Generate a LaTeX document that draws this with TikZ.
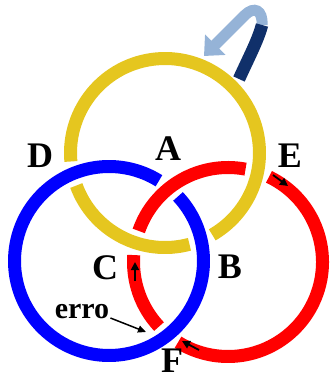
\documentclass[tikz,border=0pt]{standalone}
\usepackage{fontspec}
\setmainfont{Liberation Serif}
\usetikzlibrary{arrows.meta}
\definecolor{ringyellow}{HTML}{E5C61F}
\definecolor{ringblue}{HTML}{0000FF}
\definecolor{ringred}{HTML}{FF0000}
\definecolor{arrowlight}{HTML}{95B3D7}
\definecolor{arrowdark}{HTML}{10306A}
\begin{document}
\begin{tikzpicture}[x=1pt,y=-1pt,
  ring/.style={line width=13pt},
  lab/.style={font=\fontsize{36}{36}\selectfont\bfseries, inner sep=0pt, anchor=center},
  smalllab/.style={font=\fontsize{30}{30}\selectfont\bfseries, inner sep=0pt, anchor=center},
  tinyarrow/.style={line width=1.8pt, -{Triangle[width=8pt,length=8pt]}}]
\useasboundingbox (0,0) rectangle (329,382);
% centres
\coordinate (Y) at (165,153);
\coordinate (B) at (109,261);
\coordinate (R) at (228,262);
% yellow ring
\draw[ring, ringyellow] (Y) ++(75:94.5) arc[start angle=75, end angle=159.85, radius=94.5];
\draw[ring, ringyellow] (Y) ++(174.85:94.5) arc[start angle=174.85, end angle=420, radius=94.5];
% blue ring
\draw[ring, ringblue] (B) ++(-43.1:94.5) arc[start angle=-43.1, end angle=301.9, radius=94.5];
% red ring
\draw[ring, ringred] (R) ++(-64.3:94.5) arc[start angle=-64.3, end angle=121.9, radius=94.5];
\draw[ring, ringred] (R) ++(136.9:94.5) arc[start angle=136.9, end angle=184.2, radius=94.5];
\draw[ring, ringred] (R) ++(199.2:94.5) arc[start angle=199.2, end angle=280.7, radius=94.5];
% big curved arrow
\coordinate (bigstart) at (239,79);
\coordinate (bigturn) at (262,25);
\coordinate (bigtop) at (245,15);
\coordinate (bigtip) at (204,56);
\draw[line width=11pt, arrowlight, -{Triangle[width=28pt,length=16pt]}]
  (bigturn) .. controls (263,10) and (254,6) .. (bigtop) -- (bigtip);
\draw[line width=12.5pt, arrowdark] (bigstart) .. controls (250,55) and (258,40) .. (bigturn);
% labels
\node[lab] (labA) at (168,149) {A};
\node[lab] (labB) at (230,267) {B};
\node[lab] (labC) at (105,268) {C};
\node[lab] (labD) at (40,156) {D};
\node[lab] (labE) at (290,156) {E};
\node[lab] (labF) at (172,361) {F};
\node[smalllab] (erro) at (82,312) {erro};
% small arrows
\coordinate (eS) at (273,175);
\coordinate (eT) at (288,186);
\coordinate (cS) at (135,281);
\coordinate (cT) at (135,262);
\coordinate (fS) at (199,350);
\coordinate (fT) at (182,341);
\coordinate (errT) at (146,332);
\draw[tinyarrow] (eS) -- (eT);
\draw[tinyarrow] (cS) -- (cT);
\draw[tinyarrow] (fS) -- (fT);
\draw[line width=1.5pt, -{Triangle[width=7pt,length=8pt]}] (erro.east) ++(1,6) -- (errT);
\end{tikzpicture}
\end{document}
